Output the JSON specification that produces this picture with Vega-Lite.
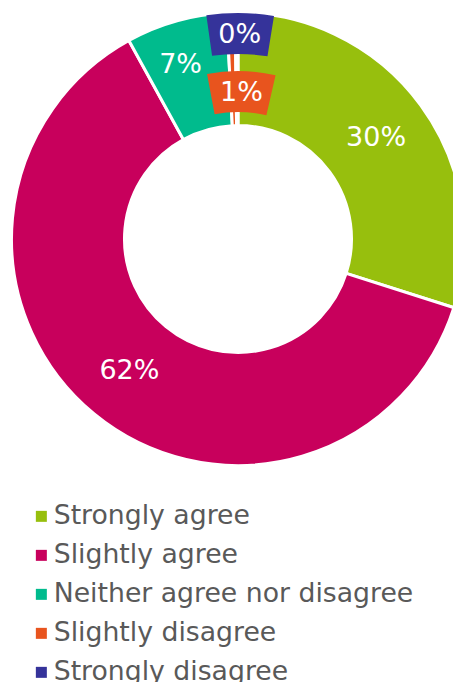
{
  "$schema": "https://vega.github.io/schema/vega-lite/v6.json",
  "width": 453,
  "height": 682,
  "autosize": {"type": "none"},
  "padding": 0,
  "background": "white",
  "config": {"view": {"stroke": null}},
  "data": {
    "values": [
      {"category": "Strongly agree", "value": 29.9, "label": "30%", "rank": 1},
      {"category": "Slightly agree", "value": 62.1, "label": "62%", "rank": 2},
      {"category": "Neither agree nor disagree", "value": 7.2, "label": "7%", "rank": 3},
      {"category": "Slightly disagree", "value": 0.6, "label": "1%", "rank": 4},
      {"category": "Strongly disagree", "value": 0.2, "label": "0%", "rank": 5}
    ]
  },
  "layer": [
    {
      "mark": {"type": "arc", "x": 238, "y": 239, "outerRadius": 226.5, "innerRadius": 113.5, "stroke": "white", "strokeWidth": 3},
      "encoding": {
        "theta": {"field": "value", "type": "quantitative", "stack": true, "scale": {"domain": [0, 100]}},
        "order": {"field": "rank", "type": "quantitative"},
        "color": {
          "field": "category",
          "type": "nominal",
          "scale": {
            "domain": ["Strongly agree", "Slightly agree", "Neither agree nor disagree", "Slightly disagree", "Strongly disagree"],
            "range": ["#97BF0D", "#C8005C", "#00BB8D", "#E8541E", "#35339A"]
          },
          "legend": {
            "orient": "none",
            "legendX": 28,
            "legendY": 503,
            "title": null,
            "padding": 0,
            "symbolType": "square",
            "symbolSize": 121,
            "symbolStrokeWidth": 0,
            "labelFont": "DejaVu Sans",
            "labelFontSize": 26.7,
            "labelColor": "#595959",
            "labelOffset": -1,
            "labelLimit": 500,
            "rowPadding": 11
          }
        }
      }
    },
    {
      "transform": [
        {"stack": "value", "groupby": [], "sort": [{"field": "rank", "order": "ascending"}], "as": ["v0", "v1"]},
        {"filter": "datum.rank === 4"}
      ],
      "mark": {"type": "arc", "x": 238, "y": 239, "outerRadius": 168, "innerRadius": 127, "thetaOffset": -0.135, "theta2Offset": 0.238, "fill": "#E8541E"},
      "encoding": {
        "theta": {"field": "v0", "type": "quantitative", "scale": {"domain": [0, 100]}},
        "theta2": {"field": "v1"}
      }
    },
    {
      "transform": [
        {"stack": "value", "groupby": [], "sort": [{"field": "rank", "order": "ascending"}], "as": ["v0", "v1"]},
        {"filter": "datum.rank === 5"}
      ],
      "mark": {"type": "arc", "x": 238, "y": 239, "outerRadius": 226, "innerRadius": 185, "thetaOffset": -0.128, "theta2Offset": 0.16, "fill": "#35339A"},
      "encoding": {
        "theta": {"field": "v0", "type": "quantitative", "scale": {"domain": [0, 100]}},
        "theta2": {"field": "v1"}
      }
    },
    {
      "mark": {"type": "text", "x": 238, "y": 239, "radius": 171, "font": "DejaVu Sans", "fontSize": 27, "color": "white"},
      "encoding": {
        "theta": {"field": "value", "type": "quantitative", "stack": true},
        "order": {"field": "rank", "type": "quantitative"},
        "detail": {"field": "category", "type": "nominal"},
        "text": {"condition": {"test": "datum.rank <= 2", "field": "label", "type": "nominal"}, "value": ""}
      }
    },
    {
      "mark": {"type": "text", "x": 238, "y": 239, "radius": 181, "dx": -8, "font": "DejaVu Sans", "fontSize": 27, "color": "white"},
      "encoding": {
        "theta": {"field": "value", "type": "quantitative", "stack": true},
        "order": {"field": "rank", "type": "quantitative"},
        "detail": {"field": "category", "type": "nominal"},
        "text": {"condition": {"test": "datum.rank === 3", "field": "label", "type": "nominal"}, "value": ""}
      }
    },
    {
      "mark": {"type": "text", "x": 238, "y": 239, "radius": 146, "dx": 8, "font": "DejaVu Sans", "fontSize": 27, "color": "white"},
      "encoding": {
        "theta": {"field": "value", "type": "quantitative", "stack": true},
        "order": {"field": "rank", "type": "quantitative"},
        "detail": {"field": "category", "type": "nominal"},
        "text": {"condition": {"test": "datum.rank === 4", "field": "label", "type": "nominal"}, "value": ""}
      }
    },
    {
      "mark": {"type": "text", "x": 238, "y": 239, "radius": 204, "dx": 3, "font": "DejaVu Sans", "fontSize": 27, "color": "white"},
      "encoding": {
        "theta": {"field": "value", "type": "quantitative", "stack": true},
        "order": {"field": "rank", "type": "quantitative"},
        "detail": {"field": "category", "type": "nominal"},
        "text": {"condition": {"test": "datum.rank === 5", "field": "label", "type": "nominal"}, "value": ""}
      }
    }
  ]
}
